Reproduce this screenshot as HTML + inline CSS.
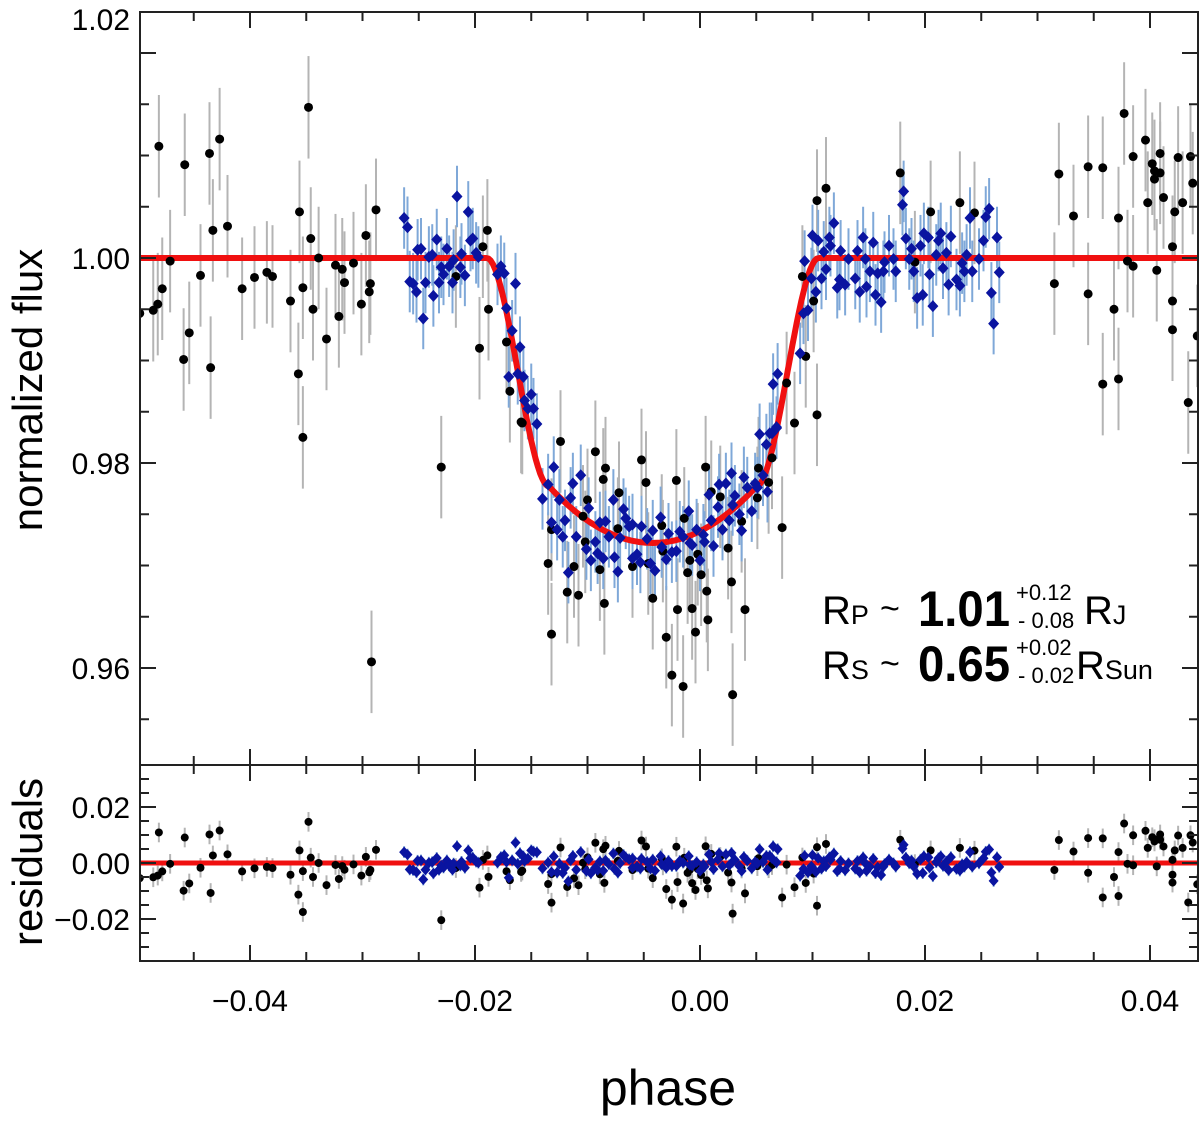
<!DOCTYPE html>
<html><head><meta charset="utf-8"><style>
html,body{margin:0;padding:0;background:#fff;}
svg{display:block;font-family:"Liberation Sans",sans-serif;}
</style></head><body>
<svg id="chart" width="1200" height="1123" viewBox="0 0 1200 1123" xmlns="http://www.w3.org/2000/svg">
<g id="bars"></g><g id="model"></g><g id="marks"></g><g id="axes"></g>
<text x="0" y="0" transform="translate(42,390) rotate(-90)" font-size="42" text-anchor="middle" fill="#000">normalized flux</text>
<text x="0" y="0" transform="translate(42,862) rotate(-90)" font-size="42" text-anchor="middle" fill="#000">residuals</text>
<text x="668" y="1105" font-size="50" text-anchor="middle" fill="#000">phase</text>
<g fill="#000">
<text x="822" y="624" font-size="40">R<tspan font-size="27">P</tspan></text>
<text x="880" y="620" font-size="34">~</text>
<text x="918" y="626" font-size="50" font-weight="bold" textLength="92" lengthAdjust="spacingAndGlyphs">1.01</text>
<text x="1016" y="600" font-size="22">+0.12</text>
<text x="1018" y="628" font-size="22">- 0.08</text>
<text x="1084" y="624" font-size="40">R<tspan font-size="27">J</tspan></text>
</g>
<g fill="#000">
<text x="822" y="679" font-size="40">R<tspan font-size="27">S</tspan></text>
<text x="880" y="675" font-size="34">~</text>
<text x="918" y="681" font-size="50" font-weight="bold" textLength="92" lengthAdjust="spacingAndGlyphs">0.65</text>
<text x="1016" y="655" font-size="22">+0.02</text>
<text x="1018" y="683" font-size="22">- 0.02</text>
<text x="1076" y="679" font-size="40">R<tspan font-size="27">Sun</tspan></text>
</g>
</svg>
<script>
// ground-based (black) photometry
var blackPhase=[-0.0498,-0.0486,-0.0482,-0.0481,-0.0478,-0.0471,-0.0459,-0.0458,-0.0454,-0.0444,-0.0436,-0.0435,-0.0433,-0.0427,-0.0420,-0.0407,-0.0396,-0.0385,-0.0380,-0.0364,-0.0357,-0.0356,-0.0353,-0.0353,-0.0348,-0.0346,-0.0344,-0.0339,-0.0332,-0.0324,-0.0321,-0.0318,-0.0316,-0.0308,-0.0301,-0.0297,-0.0294,-0.0293,-0.0288,-0.0292,-0.0230,
-0.0189,-0.0193,-0.0217,-0.0196,-0.0188,-0.0172,-0.0169,-0.0159,
-0.0158,-0.0124,-0.0093,-0.0084,-0.0086,-0.0052,-0.0048,-0.0021,0.0005,-0.0072,-0.0100,-0.0104,-0.0132,-0.0073,-0.0102,-0.0034,-0.0014,0.0010,0.0018,0.0052,0.0061,0.0064,0.0084,0.0073,0.0051,0.0037,-0.0135,-0.0112,-0.0089,-0.0060,-0.0118,-0.0108,-0.0085,-0.0132,-0.0042,-0.0009,-0.0011,-0.0002,0.0001,-0.0020,-0.0007,0.0006,0.0007,-0.0004,-0.0030,0.0028,0.0040,-0.0025,-0.0015,0.0029,0.0025,-0.0033,-0.0046,
0.0077,0.0091,0.0101,0.0094,0.0104,0.0104,0.0112,
0.0178,0.0205,0.0231,0.0244,0.0191,
0.0319,0.0332,0.0345,0.0358,0.0372,0.0377,0.0385,0.0396,0.0398,0.0402,0.0404,0.0404,0.0409,0.0409,0.0412,0.0422,0.0425,0.0429,0.0436,0.0438,0.0420,0.0380,0.0385,0.0406,0.0315,0.0345,0.0368,0.0420,0.0420,0.0442,0.0358,0.0372,0.0434];
var blackFlux=[0.9946,0.9949,0.9955,1.0109,0.9970,0.9997,0.9901,1.0091,0.9927,0.9983,1.0102,0.9893,1.0027,1.0116,1.0031,0.9970,0.9981,0.9986,0.9982,0.9958,0.9887,1.0045,0.9971,0.9825,1.0147,1.0019,0.9950,1.0000,0.9921,0.9993,0.9943,0.9989,0.9976,0.9995,0.9955,1.0022,0.9967,0.9975,1.0047,0.9606,0.9796,
1.0027,1.0011,0.9982,0.9912,0.9950,0.9918,0.9870,0.9840,
0.9839,0.9821,0.9811,0.9795,0.9784,0.9803,0.9781,0.9783,0.9796,0.9771,0.9764,0.9748,0.9735,0.9736,0.9723,0.9739,0.9746,0.9772,0.9767,0.9795,0.9781,0.9805,0.9839,0.9737,0.9766,0.9743,0.9702,0.9699,0.9696,0.9699,0.9674,0.9671,0.9663,0.9633,0.9668,0.9705,0.9693,0.9711,0.9691,0.9657,0.9658,0.9675,0.9647,0.9635,0.9630,0.9684,0.9657,0.9593,0.9582,0.9574,0.9717,0.9714,0.9702,
0.9878,0.9982,0.9958,0.9904,0.9847,1.0056,1.0068,
1.0083,1.0045,1.0054,1.0044,0.9996,
1.0082,1.0041,1.0089,1.0088,1.0039,1.0141,1.0099,1.0115,1.0054,1.0092,1.0085,1.0077,1.0102,1.0083,1.0059,1.0045,1.0098,1.0054,1.0099,1.0073,1.0011,0.9997,0.9992,0.9988,0.9975,0.9965,0.9950,0.9958,0.9930,0.9924,0.9877,0.9882,0.9859];
// space-based (blue) photometry
var bluePhase=[-0.0263,-0.0260,-0.0258,-0.0255,-0.0252,-0.0251,-0.0248,-0.0246,-0.0244,-0.0241,-0.0238,-0.0237,-0.0234,-0.0232,-0.0230,-0.0228,-0.0225,-0.0223,-0.0220,-0.0219,-0.0216,-0.0213,-0.0212,-0.0209,-0.0206,-0.0204,-0.0202,-0.0199,-0.0197,-0.0180,-0.0177,-0.0174,-0.0164,-0.0172,-0.0167,-0.0160,-0.0170,-0.0162,-0.0157,-0.0156,-0.0150,-0.0153,-0.0148,-0.0145,-0.0130,
-0.0135,-0.0140,-0.0113,-0.0106,-0.0115,-0.0125,-0.0132,-0.0127,-0.0120,-0.0122,-0.0110,-0.0099,-0.0101,-0.0093,-0.0097,-0.0091,-0.0086,-0.0117,-0.0089,-0.0084,-0.0077,-0.0081,-0.0071,-0.0068,-0.0066,-0.0063,-0.0060,-0.0076,-0.0073,-0.0060,-0.0056,-0.0053,-0.0052,-0.0047,-0.0042,-0.0035,-0.0044,-0.0040,-0.0034,-0.0030,-0.0028,-0.0025,-0.0021,-0.0018,-0.0015,-0.0010,-0.0009,-0.0007,-0.0003,0.0003,0.0004,0.0000,0.0010,0.0012,0.0008,0.0017,0.0023,0.0020,0.0016,0.0028,0.0031,0.0029,0.0026,0.0035,0.0037,0.0039,0.0042,0.0046,0.0049,0.0051,0.0053,0.0059,0.0060,0.0056,0.0064,0.0068,
0.0065,0.0069,0.0068,0.0062,0.0089,0.0092,0.0096,0.0099,0.0103,0.0093,0.0100,0.0105,0.0110,0.0112,0.0108,0.0115,0.0116,0.0119,0.0122,
0.0181,0.0180,0.0240,0.0257,0.0254,0.0264,0.0145,0.0154,0.0168,0.0183,0.0188,0.0199,0.0203,0.0214,0.0223,0.0212,0.0252,0.0125,0.0140,0.0196,0.0210,0.0219,0.0237,0.0132,0.0147,0.0164,0.0172,0.0186,0.0233,0.0248,0.0151,0.0158,0.0163,0.0174,0.0190,0.0204,0.0216,0.0235,0.0242,0.0266,0.0138,0.0124,0.0129,0.0148,0.0142,0.0156,0.0161,0.0193,0.0198,0.0207,0.0221,0.0228,0.0231,0.0259,0.0261];
var blueFlux=[1.0039,1.0030,0.9977,0.9975,0.9967,1.0008,1.0009,0.9941,0.9976,1.0001,1.0003,0.9963,1.0018,0.9976,0.9991,0.9984,1.0009,0.9992,0.9976,0.9998,1.0060,0.9991,1.0004,0.9983,1.0045,1.0017,1.0019,1.0005,1.0001,0.9984,0.9992,0.9985,0.9975,0.9951,0.9929,0.9913,0.9884,0.9887,0.9884,0.9861,0.9867,0.9853,0.9853,0.9838,0.9796,
0.9779,0.9765,0.9780,0.9788,0.9766,0.9764,0.9742,0.9735,0.9744,0.9728,0.9728,0.9756,0.9716,0.9723,0.9705,0.9712,0.9707,0.9693,0.9742,0.9743,0.9764,0.9728,0.9727,0.9755,0.9746,0.9738,0.9740,0.9708,0.9694,0.9707,0.9711,0.9703,0.9738,0.9726,0.9734,0.9747,0.9702,0.9695,0.9718,0.9706,0.9731,0.9713,0.9714,0.9733,0.9728,0.9753,0.9722,0.9720,0.9735,0.9730,0.9723,0.9705,0.9744,0.9719,0.9769,0.9779,0.9780,0.9735,0.9757,0.9790,0.9768,0.9759,0.9744,0.9750,0.9734,0.9786,0.9776,0.9753,0.9780,0.9776,0.9828,0.9818,0.9772,0.9788,0.9829,0.9835,
0.9877,0.9887,0.9834,0.9829,0.9907,0.9946,0.9949,0.9980,0.9967,0.9997,1.0022,1.0017,1.0006,0.9989,0.9980,1.0020,1.0012,1.0034,0.9971,
1.0065,1.0052,1.0039,1.0048,1.0040,1.0020,1.0020,1.0015,1.0012,1.0019,1.0009,1.0024,1.0020,1.0024,1.0021,1.0017,1.0017,1.0007,1.0007,1.0012,1.0003,1.0005,1.0003,0.9999,0.9999,0.9996,0.9999,0.9999,0.9995,0.9999,0.9987,0.9985,0.9987,0.9987,0.9987,0.9984,0.9990,0.9987,0.9987,0.9986,0.9980,0.9979,0.9974,0.9972,0.9967,0.9964,0.9957,0.9961,0.9964,0.9953,0.9974,0.9979,0.9973,0.9966,0.9936];
var blackErr=[0.0050];
var blueErr=[0.0030];
// transit model parameters: mid-phase, half T14, half T23, edge depth, centre depth
var modelParams=[-0.0042,0.01475,0.0092,0.0223,0.0278];
var xTickLabels=["\u22120.04","\u22120.02","0.00","0.02","0.04"];
var xTickValues=[-0.04,-0.02,0,0.02,0.04];
var yTickValues=[1.02,1.00,0.98,0.96];
var yTickLabels=["1.02","1.00","0.98","0.96"];
var rTickValues=[0.02,0,-0.02];
var rTickLabels=["0.02","0.00","\u22120.02"];

var NS="http://www.w3.org/2000/svg";
var L=140,R=1198,T=12,MB=765,RB=961;
function sx(p){return 700+p*11250;}
function sy(f){return 258+(1-f)*10250;}
function ry(r){return 863-r*2800;}
function model(p){
  var t0=modelParams[0],h14=modelParams[1],h23=modelParams[2],de=modelParams[3],dc=modelParams[4];
  var d=Math.abs(p-t0);
  if(d>=h14) return 1;
  if(d<=h23){var u=d/h23;return 1-(dc-(dc-de)*u*u);}
  var s=(h14-d)/(h14-h23);var sm=s*s*(3-2*s);
  return 1-de*sm;
}
function mk(tag,attrs,parent){var e=document.createElementNS(NS,tag);for(var k in attrs)e.setAttribute(k,attrs[k]);parent.appendChild(e);return e;}
var gB=document.getElementById('bars'),gM=document.getElementById('model'),gK=document.getElementById('marks'),gA=document.getElementById('axes');

var defs=mk('defs',{},document.getElementById('chart'));
var c1=mk('clipPath',{id:'cm'},defs);mk('rect',{x:L,y:T,width:R-L,height:MB-T},c1);
var c2=mk('clipPath',{id:'cr'},defs);mk('rect',{x:L,y:MB,width:R-L,height:RB-MB},c2);
var bm=mk('g',{'clip-path':'url(#cm)'},gB),br=mk('g',{'clip-path':'url(#cr)'},gB);
var km=mk('g',{'clip-path':'url(#cm)'},gK),kr=mk('g',{'clip-path':'url(#cr)'},gK);
var mm=mk('g',{'clip-path':'url(#cm)'},gM),mr=mk('g',{'clip-path':'url(#cr)'},gM);

function drawSeries(px,fx,err,color,barColor,isDiamond,name){
  for(var i=0;i<px.length;i++){
    var x=sx(px[i]),y=sy(fx[i]),e=err[0]*10250;
    var b=mk('line',{x1:x,x2:x,y1:y-e,y2:y+e,stroke:barColor,'stroke-width':2},bm);
    
    
    var r=fx[i]-model(px[i]);var yr=ry(r),er=err[0]*0.7*2800;
    var b2=mk('line',{x1:x,x2:x,y1:yr-er,y2:yr+er,stroke:barColor,'stroke-width':2},br);
    
    
    var m,m2;
    if(isDiamond){
      m=mk('path',{d:'M'+x+' '+(y-6)+'L'+(x+5.5)+' '+y+'L'+x+' '+(y+6)+'L'+(x-5.5)+' '+y+'Z',fill:color},km);
      m2=mk('path',{d:'M'+x+' '+(yr-5.5)+'L'+(x+5)+' '+yr+'L'+x+' '+(yr+5.5)+'L'+(x-5)+' '+yr+'Z',fill:color},kr);
    }else{
      m=mk('circle',{cx:x,cy:y,r:4.5,fill:color},km);
      m2=mk('circle',{cx:x,cy:yr,r:4,fill:color},kr);
    }
    
    
    
    
  }
}
drawSeries(blackPhase,blackFlux,blackErr,'#000','#b4b4b4',false,'ground');
drawSeries(bluePhase,blueFlux,blueErr,'#0a14a0','#7fa8d8',true,'space');

var pts=[];for(var p=-0.050;p<=0.045;p+=0.0002){pts.push(sx(p).toFixed(1)+','+sy(model(p)).toFixed(1));}
var ml=mk('polyline',{points:pts.join(' '),fill:'none',stroke:'#f01010','stroke-width':6,'stroke-linejoin':'round'},mm);


var rl=mk('line',{x1:L,x2:R,y1:ry(0),y2:ry(0),stroke:'#f01010','stroke-width':5},mr);



var f1=mk('rect',{x:L,y:T,width:R-L,height:MB-T,fill:'none',stroke:'#222','stroke-width':2},gA);


var f2=mk('rect',{x:L,y:MB,width:R-L,height:RB-MB,fill:'none',stroke:'#222','stroke-width':2},gA);



function tick(x1,y1,x2,y2){var t=mk('line',{x1:x1,y1:y1,x2:x2,y2:y2,stroke:'#222','stroke-width':2},gA);}
for(var k=-10;k<=9;k++){
  var v=k*0.005,x=sx(v);if(x<L+2||x>R-2)continue;
  var len=(k%4===0)?16:9;
  tick(x,T,x,T+len);tick(x,MB,x,MB-len);tick(x,MB,x,MB+len);tick(x,RB,x,RB-len);
}
for(var i=0;i<xTickValues.length;i++){
  var t=mk('text',{x:sx(xTickValues[i]),y:1011,'font-size':30,'text-anchor':'middle',fill:'#000'},gA);t.textContent=xTickLabels[i];
  
  
}
for(var k=0;k<=14;k++){
  var v=1.02-k*0.005,y=sy(v);if(y<T+2||y>MB-2)continue;
  var len=(k%4===0)?16:9;
  tick(L,y,L+len,y);tick(R,y,R-len,y);
}
for(var i=0;i<yTickValues.length;i++){
  var yy=sy(yTickValues[i]);if(i===0)yy=19;
  var t=mk('text',{x:130,y:yy+11,'font-size':30,'text-anchor':'end',fill:'#000'},gA);t.textContent=yTickLabels[i];
  
  
}
for(var k=-7;k<=7;k++){
  var v=k*0.005,y=ry(v);if(y<MB+2||y>RB-2)continue;
  var len=(k%4===0)?16:9;
  tick(L,y,L+len,y);tick(R,y,R-len,y);
}
for(var i=0;i<rTickValues.length;i++){
  var t=mk('text',{x:130,y:ry(rTickValues[i])+11,'font-size':30,'text-anchor':'end',fill:'#000'},gA);t.textContent=rTickLabels[i];
  
  
}
</script>
</body></html>
